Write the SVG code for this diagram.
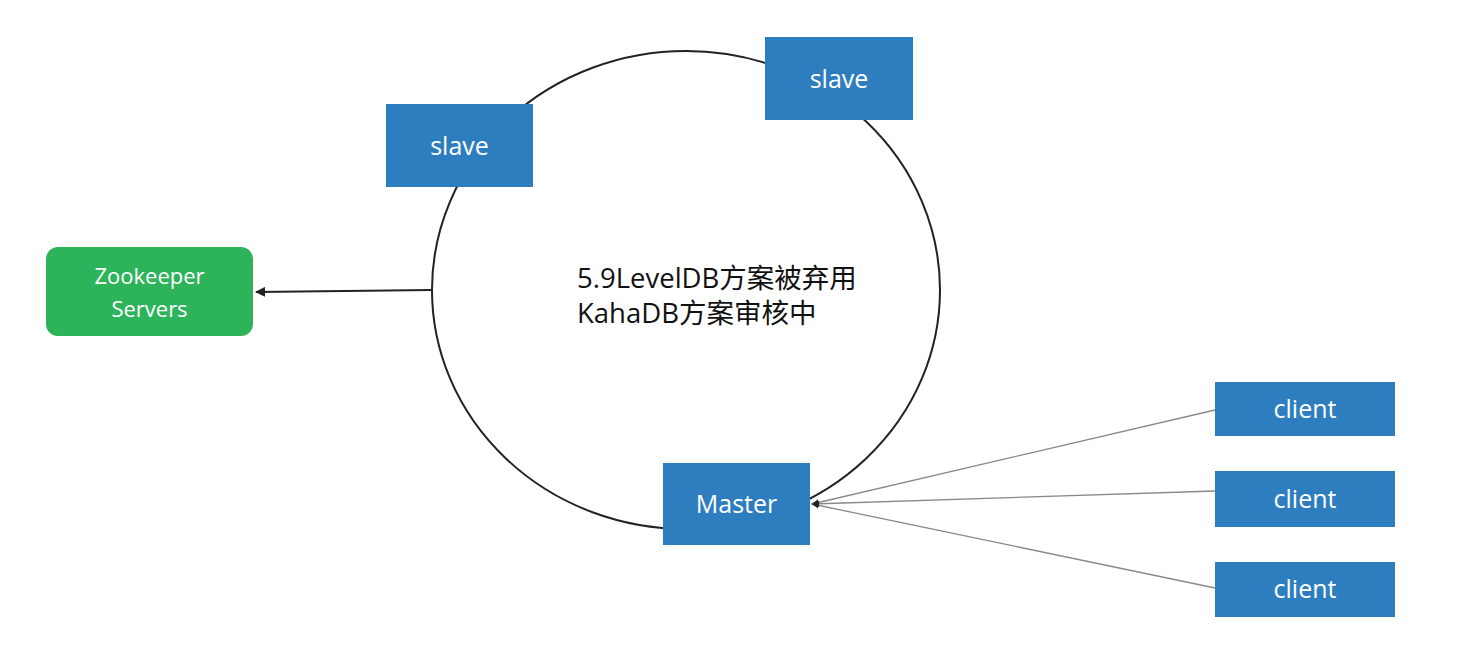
<svg xmlns="http://www.w3.org/2000/svg" width="1482" height="649" viewBox="0 0 1482 649">
<style>
.box{fill:#2E7EBF;}
.zk{fill:#2DB35A;}
.lbl{fill:#ffffff;font-family:"Open Sans","Noto Sans CJK SC",sans-serif;font-size:25px;text-anchor:middle;}
.zlbl{fill:#ffffff;font-family:"Open Sans","Noto Sans CJK SC",sans-serif;font-size:22px;text-anchor:middle;}
.ctr{fill:#111111;font-family:"Open Sans","Noto Sans CJK SC",sans-serif;font-size:27.5px;}
.ring{fill:none;stroke:#222;stroke-width:2;}
.dark{stroke:#222;stroke-width:2;fill:none;}
.thin{stroke:#888;stroke-width:1.3;fill:none;}
</style>
<defs>
<marker id="arr" viewBox="0 0 10 10" refX="9" refY="5" markerWidth="5" markerHeight="5" orient="auto-start-reverse">
<path d="M0,0 L10,5 L0,10 z" fill="#222"/>
</marker>
<marker id="dot" viewBox="0 0 10 10" refX="9" refY="5" markerWidth="6" markerHeight="6" orient="auto">
<path d="M0,1 L10,5 L0,9 z" fill="#222"/>
</marker>
</defs>
<rect width="1482" height="649" fill="#ffffff"/>
<g id="connectors">
<ellipse class="ring" cx="686" cy="290" rx="254" ry="239"/>
<line class="dark" x1="432" y1="290" x2="256" y2="292" marker-end="url(#arr)"/>
<line class="thin" x1="1215" y1="410" x2="812" y2="504" marker-end="url(#dot)"/>
<line class="thin" x1="1215" y1="491" x2="812" y2="504" marker-end="url(#dot)"/>
<line class="thin" x1="1215" y1="588" x2="812" y2="504" marker-end="url(#dot)"/>
</g>
<g id="center-text">
<text class="ctr" x="577" y="288">5.9LevelDB方案被弃用</text>
<text class="ctr" x="577" y="323">KahaDB方案审核中</text>
</g>
<g id="zookeeper">
<rect class="zk" x="46" y="247" width="207" height="89" rx="12"/>
<text class="zlbl" x="149.5" y="284">Zookeeper</text>
<text class="zlbl" x="149.5" y="317">Servers</text>
</g>
<g id="slave1">
<rect class="box" x="386" y="104" width="147" height="83"/>
<text class="lbl" x="459.5" y="155">slave</text>
</g>
<g id="slave2">
<rect class="box" x="765" y="37" width="148" height="83"/>
<text class="lbl" x="839" y="88">slave</text>
</g>
<g id="master">
<rect class="box" x="663" y="463" width="147" height="82"/>
<text class="lbl" x="736.5" y="513">Master</text>
</g>
<g id="client1">
<rect class="box" x="1215" y="382" width="180" height="54"/>
<text class="lbl" x="1305" y="418">client</text>
</g>
<g id="client2">
<rect class="box" x="1215" y="471" width="180" height="56"/>
<text class="lbl" x="1305" y="508">client</text>
</g>
<g id="client3">
<rect class="box" x="1215" y="562" width="180" height="55"/>
<text class="lbl" x="1305" y="598">client</text>
</g>
</svg>
